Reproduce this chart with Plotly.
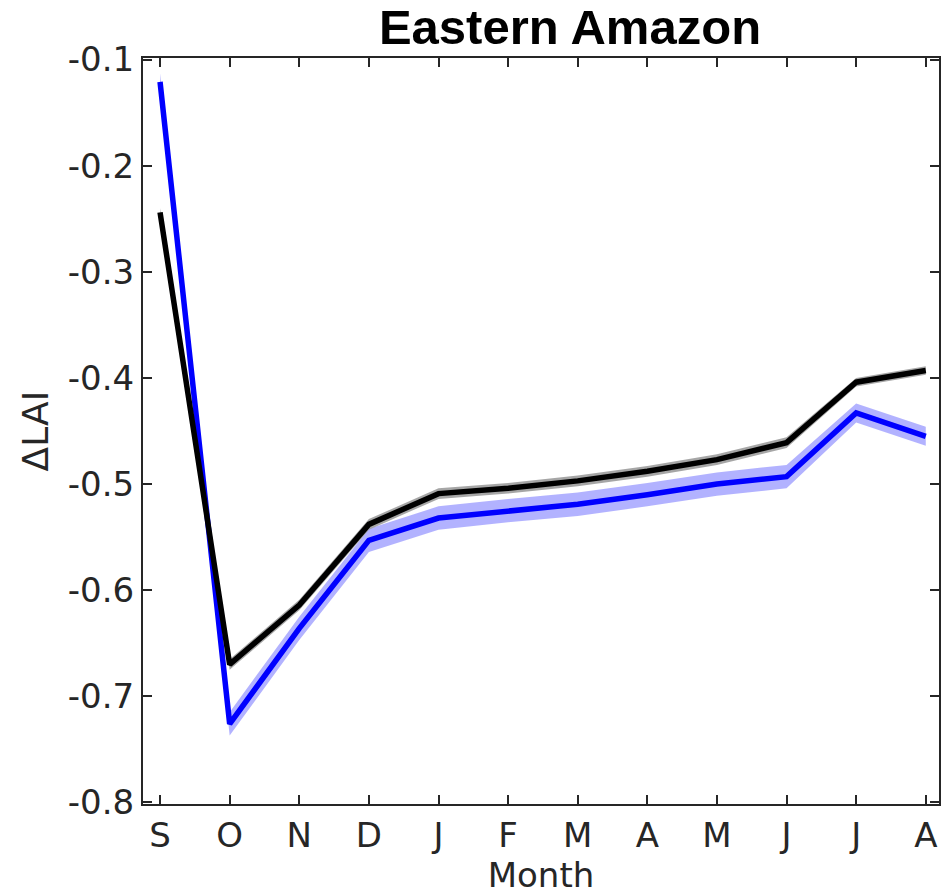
import plotly.graph_objects as go

months = ["S", "O", "N", "D", "J", "F", "M", "A", "M", "J", "J", "A"]
x_idx = list(range(len(months)))

# Mean LAI change per month and its spread (half-width of the shaded band)
black_mean = [-0.244, -0.670, -0.614, -0.538, -0.509, -0.504, -0.497, -0.488, -0.477, -0.461, -0.404, -0.393]
black_err = [0.004, 0.005, 0.005, 0.005, 0.005, 0.005, 0.005, 0.005, 0.005, 0.005, 0.004, 0.004]
blue_mean = [-0.121, -0.726, -0.636, -0.553, -0.532, -0.525, -0.519, -0.510, -0.500, -0.493, -0.433, -0.455]
blue_err = [0.008, 0.011, 0.011, 0.011, 0.011, 0.011, 0.011, 0.011, 0.011, 0.011, 0.009, 0.009]

y_ticks = [-0.8, -0.7, -0.6, -0.5, -0.4, -0.3, -0.2, -0.1]
y_tick_text = ["-0.8", "-0.7", "-0.6", "-0.5", "-0.4", "-0.3", "-0.2", "-0.1"]

fig = go.Figure()


def add_band(mean, err, fillcolor):
    upper = [m + e for m, e in zip(mean, err)]
    lower = [m - e for m, e in zip(mean, err)]
    fig.add_trace(go.Scatter(
        x=x_idx + x_idx[::-1], y=upper + lower[::-1],
        fill="toself", fillcolor=fillcolor, mode="none",
        line=dict(width=0), hoverinfo="skip", showlegend=False))


def add_line(mean, color):
    fig.add_trace(go.Scatter(
        x=x_idx, y=mean, mode="lines",
        line=dict(color=color, width=5.5), showlegend=False))


add_band(blue_mean, blue_err, "rgba(170,170,255,0.9)")
add_band(black_mean, black_err, "rgba(150,150,150,0.85)")
add_line(blue_mean, "#0000ff")
add_line(black_mean, "#000000")

axis_color = "#262626"
font_family = "DejaVu Sans, sans-serif"
fsize = 34

fig.update_layout(
    width=950, height=895,
    margin=dict(l=143, r=11, t=58, b=91),
    paper_bgcolor="white", plot_bgcolor="white",
    title=dict(text="<b>Eastern Amazon</b>", x=570 / 950, xanchor="center",
               y=1 - 27 / 895, yanchor="middle",
               font=dict(family="Liberation Sans, Arial, sans-serif", size=49, color="black")),
    font=dict(family=font_family, size=fsize, color=axis_color),
)

fig.update_xaxes(
    range=[-0.245, 11.19], automargin=False,
    tickvals=x_idx, ticktext=months,
    ticks="inside", ticklen=9, tickwidth=1.5, tickcolor=axis_color,
    showline=True, linecolor=axis_color, linewidth=2, mirror="ticks",
    showgrid=False, zeroline=False,
    tickfont=dict(family=font_family, size=fsize, color=axis_color),
    title=dict(text="Month", standoff=17,
               font=dict(family=font_family, size=fsize, color=axis_color)),
)

fig.update_yaxes(
    range=[-0.8015, -0.0985], automargin=False,
    tickvals=y_ticks, ticktext=y_tick_text,
    ticks="inside", ticklen=9, tickwidth=1.5, tickcolor=axis_color,
    showline=True, linecolor=axis_color, linewidth=2, mirror="ticks",
    showgrid=False, zeroline=False,
    tickfont=dict(family=font_family, size=fsize, color=axis_color),
    title=dict(text="ΔLAI", standoff=8,
               font=dict(family=font_family, size=fsize + 2, color=axis_color)),
)

fig.write_html("out.html")
